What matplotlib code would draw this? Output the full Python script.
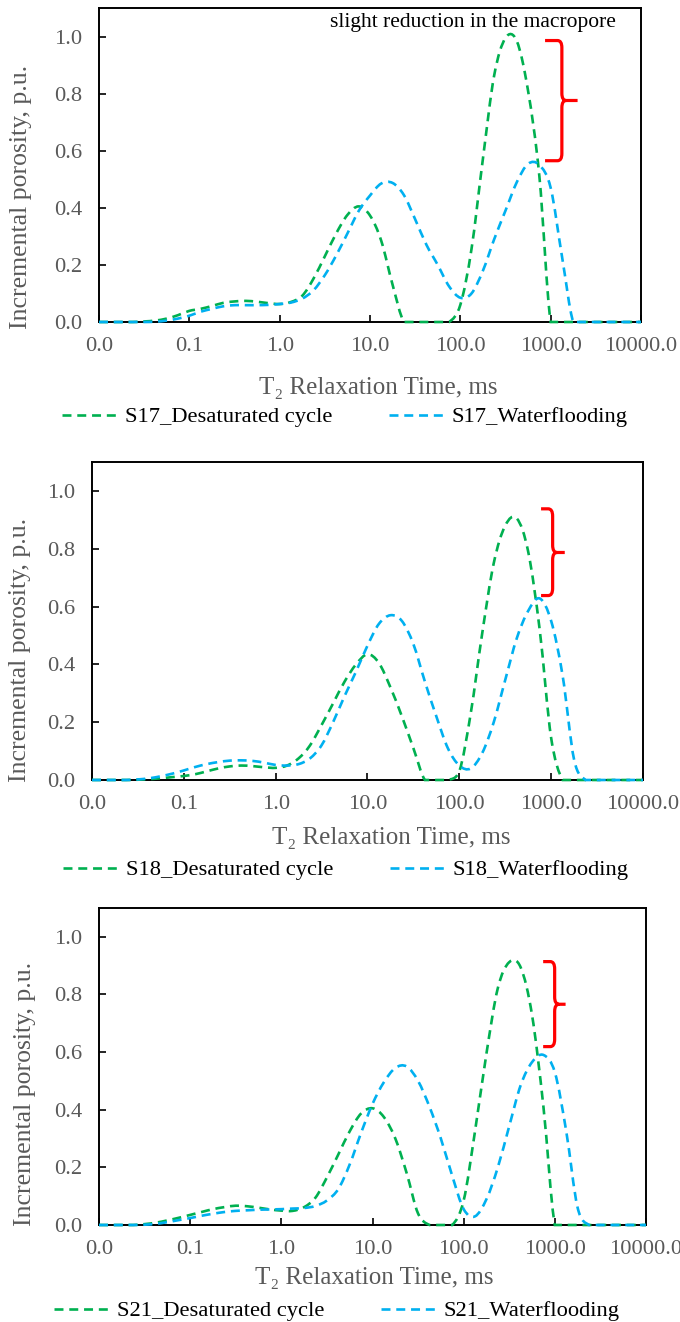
import matplotlib
matplotlib.use("Agg")
import numpy as np
import matplotlib.pyplot as plt
from matplotlib.path import Path
from matplotlib.patches import PathPatch
from matplotlib.lines import Line2D

plt.rcParams['font.family'] = ['Liberation Serif', 'DejaVu Serif']

# ---------------- data ----------------
t2_ms = [0.01, 0.0133, 0.0178, 0.0237, 0.0316, 0.0422, 0.0562, 0.075,
         0.1, 0.133, 0.178, 0.237, 0.316, 0.422, 0.562, 0.75,
         1.0, 1.33, 1.78, 2.37, 3.16, 4.22, 5.62, 7.5,
         10.0, 13.3, 17.8, 23.7, 31.6, 42.2, 56.2, 75.0,
         100.0, 133.0, 178.0, 237.0, 316.0, 422.0, 562.0, 750.0,
         1000.0, 1334.0, 1778.0, 2371.0, 3162.0, 4217.0, 5623.0, 7499.0,
         10000.0]

s17_desat = [0, 0, 0, 0, 0.002, 0.005, 0.012, 0.024,
             0.039, 0.046, 0.056, 0.067, 0.072, 0.074, 0.071, 0.066,
             0.063, 0.070, 0.092, 0.152, 0.230, 0.310, 0.375, 0.405,
             0.373, 0.285, 0.130, 0, 0, 0, 0, 0,
             0.060, 0.256, 0.573, 0.864, 0.995, 0.984, 0.810, 0.510,
             0, 0, 0, 0, 0, 0, 0, 0,
             0]
s17_water = [0, 0, 0, 0, 0, 0.001, 0.005, 0.012,
             0.022, 0.036, 0.046, 0.055, 0.059, 0.059, 0.059, 0.060,
             0.063, 0.068, 0.082, 0.111, 0.164, 0.233, 0.310, 0.389,
             0.443, 0.485, 0.487, 0.445, 0.360, 0.270, 0.200, 0.125,
             0.085, 0.100, 0.180, 0.290, 0.390, 0.490, 0.554, 0.550,
             0.470, 0.230, 0, 0, 0, 0, 0, 0,
             0]
s18_desat = [0, 0, 0, 0, 0.001, 0.003, 0.006, 0.010,
             0.014, 0.020, 0.030, 0.040, 0.047, 0.050, 0.048, 0.044,
             0.042, 0.050, 0.075, 0.120, 0.190, 0.265, 0.340, 0.400,
             0.435, 0.405, 0.320, 0.220, 0.110, 0, 0, 0,
             0.030, 0.230, 0.510, 0.750, 0.880, 0.905, 0.790, 0.520,
             0.145, 0, 0, 0, 0, 0, 0, 0,
             0]
s18_water = [0, 0, 0, 0, 0.002, 0.006, 0.013, 0.022,
             0.033, 0.045, 0.055, 0.062, 0.067, 0.068, 0.066, 0.060,
             0.052, 0.050, 0.055, 0.075, 0.120, 0.200, 0.290, 0.375,
             0.465, 0.540, 0.570, 0.550, 0.470, 0.340, 0.220, 0.110,
             0.050, 0.040, 0.094, 0.200, 0.346, 0.490, 0.585, 0.628,
             0.550, 0.360, 0.070, 0, 0, 0, 0, 0,
             0]
s21_desat = [0, 0, 0, 0, 0.003, 0.008, 0.016, 0.025,
             0.035, 0.045, 0.055, 0.062, 0.067, 0.065, 0.060, 0.054,
             0.050, 0.049, 0.062, 0.095, 0.165, 0.245, 0.325, 0.387,
             0.405, 0.375, 0.300, 0.180, 0.040, 0, 0, 0,
             0.085, 0.324, 0.596, 0.822, 0.912, 0.894, 0.729, 0.410,
             0, 0, 0, 0, 0, 0, 0, 0,
             0]
s21_water = [0, 0, 0, 0, 0.001, 0.004, 0.010, 0.017,
             0.024, 0.032, 0.039, 0.045, 0.049, 0.051, 0.053, 0.054,
             0.055, 0.057, 0.059, 0.066, 0.085, 0.125, 0.210, 0.320,
             0.420, 0.495, 0.545, 0.550, 0.500, 0.410, 0.300, 0.170,
             0.055, 0.030, 0.090, 0.200, 0.343, 0.485, 0.565, 0.590,
             0.530, 0.325, 0.060, 0, 0, 0, 0, 0,
             0]

x_ticks = [0.01, 0.1, 1, 10, 100, 1000, 10000]
x_tick_labels = ["0.0", "0.1", "1.0", "10.0", "100.0", "1000.0", "10000.0"]
y_ticks = [0.0, 0.2, 0.4, 0.6, 0.8, 1.0]
y_tick_labels = ["0.0", "0.2", "0.4", "0.6", "0.8", "1.0"]

samples = ["S17", "S18", "S21"]
desat_series = [s17_desat, s18_desat, s21_desat]
water_series = [s17_water, s18_water, s21_water]

# brace (x axes-fraction: tip, spine, point ; y data: top, mid, bottom)
braces = [
    (0.823, 0.854, 0.883, 0.986, 0.776, 0.565),
    (0.815, 0.836, 0.858, 0.938, 0.787, 0.638),
    (0.812, 0.833, 0.853, 0.914, 0.766, 0.619),
]

# ---------------- layout ----------------
W, H = 680, 1322
fig = plt.figure(figsize=(W / 100, H / 100), dpi=100)

# axes boxes in pixels: left, right, top, bottom(y=0)
boxes = [(99, 641, 8, 322), (92, 643, 462, 780), (99, 646, 908, 1225)]
xlabel_pos = [(0.515, -0.21), (0.543, -0.182), (0.503, -0.167)]
ylabel_pos = [(-0.144, 0.398), (-0.131, 0.409), (-0.135, 0.413)]
legend_pos = [(345, 417), (346, 870), (337, 1311)]

GREEN = "#00B050"
BLUE = "#00B0F0"
GRAY = "#595959"
FS = 16.2
LW = 1.9
DASH = (3.4, 2.2)


def smooth_path(xs, ys):
    """Excel-style smoothed line (Bezier through the data points), built in
    log-x space so it matches the log axis."""
    P = np.column_stack([np.log10(np.asarray(xs, float)), np.asarray(ys, float)])
    n = len(P)
    verts = [P[0].copy()]
    codes = [Path.MOVETO]
    for i in range(n - 1):
        p0 = P[i - 1] if i > 0 else P[i]
        p1, p2 = P[i], P[i + 1]
        p3 = P[i + 2] if i + 2 < n else P[i + 1]
        c1 = p1 + (p2 - p0) / 6.0
        c2 = p2 - (p3 - p1) / 6.0
        c1[1] = max(c1[1], 0.0)
        c2[1] = max(c2[1], 0.0)
        verts += [c1, c2, p2.copy()]
        codes += [Path.CURVE4] * 3
    V = np.array(verts)
    V[:, 0] = 10.0 ** V[:, 0]
    return Path(V, codes)


def draw_series(ax, xs, ys, color, z):
    patch = PathPatch(smooth_path(xs, ys), transform=ax.transData, fill=False,
                      edgecolor=color, linewidth=LW, linestyle=(0, DASH),
                      capstyle="butt", clip_on=False, zorder=z)
    ax.add_patch(patch)


def draw_brace(ax, xt, xs, xp, yt, ym, yb):
    r = 0.025
    dx = 0.008
    verts = [(xt, yt), (xs - dx, yt), (xs, yt), (xs, yt - r),
             (xs, ym + r), (xs, ym), (xs + dx, ym), (xp, ym),
             (xs + dx, ym), (xs, ym), (xs, ym - r),
             (xs, yb + r), (xs, yb), (xs - dx, yb), (xt, yb)]
    codes = [Path.MOVETO, Path.LINETO, Path.CURVE3, Path.CURVE3,
             Path.LINETO, Path.CURVE3, Path.CURVE3, Path.LINETO,
             Path.MOVETO, Path.CURVE3, Path.CURVE3,
             Path.LINETO, Path.CURVE3, Path.CURVE3, Path.LINETO]
    patch = PathPatch(Path(verts, codes), transform=ax.get_yaxis_transform(),
                      fill=False, edgecolor="#FF0000", linewidth=2.3,
                      capstyle="butt", joinstyle="round", clip_on=False)
    ax.add_patch(patch)


for i, (l, r, t, b) in enumerate(boxes):
    ax = fig.add_axes([l / W, 1 - b / H, (r - l) / W, (b - t) / H])
    ax.set_xscale("log")
    ax.set_xlim(0.01, 10000)
    ax.set_ylim(0, 1.1)

    draw_series(ax, t2_ms, desat_series[i], GREEN, 3)
    draw_series(ax, t2_ms, water_series[i], BLUE, 4)
    h1 = Line2D([], [], color=GREEN, lw=LW, dashes=DASH,
                label=f"{samples[i]}_Desaturated cycle")
    h2 = Line2D([], [], color=BLUE, lw=LW, dashes=DASH,
                label=f"{samples[i]}_Waterflooding")

    ax.set_xticks(x_ticks)
    ax.set_xticklabels(x_tick_labels)
    ax.minorticks_off()
    ax.set_yticks(y_ticks)
    ax.set_yticklabels(y_tick_labels)
    ax.tick_params(axis="both", direction="in", length=5, width=1.2,
                   labelsize=FS, labelcolor=GRAY, color="black")
    ax.tick_params(axis="x", pad=11)
    ax.tick_params(axis="y", pad=12)
    for sp in ax.spines.values():
        sp.set_linewidth(1.4)
        sp.set_color("black")
        sp.set_zorder(2)

    ax.set_xlabel("T\u2082 Relaxation Time, ms", fontsize=18, color=GRAY)
    ax.xaxis.set_label_coords(*xlabel_pos[i])
    ax.xaxis.label.set_verticalalignment("center")
    ax.set_ylabel("Incremental porosity, p.u.", fontsize=18.5, color=GRAY)
    ax.yaxis.set_label_coords(*ylabel_pos[i])
    ax.yaxis.label.set_verticalalignment("center")

    draw_brace(ax, *braces[i])

    lx, ly = legend_pos[i]
    fig.legend(handles=[h1, h2], loc="center", ncol=2, frameon=False,
               bbox_to_anchor=(lx / W, 1 - ly / H), fontsize=FS,
               handlelength=2.4, handletextpad=0.4, columnspacing=2.5,
               borderpad=0, borderaxespad=0)

    if i == 0:
        ax.text(0.69, 1.05, "slight reduction in the macropore",
                transform=ax.get_yaxis_transform(), ha="center", va="center",
                fontsize=15.5, color="black")

fig.savefig("out.png", dpi=100)
